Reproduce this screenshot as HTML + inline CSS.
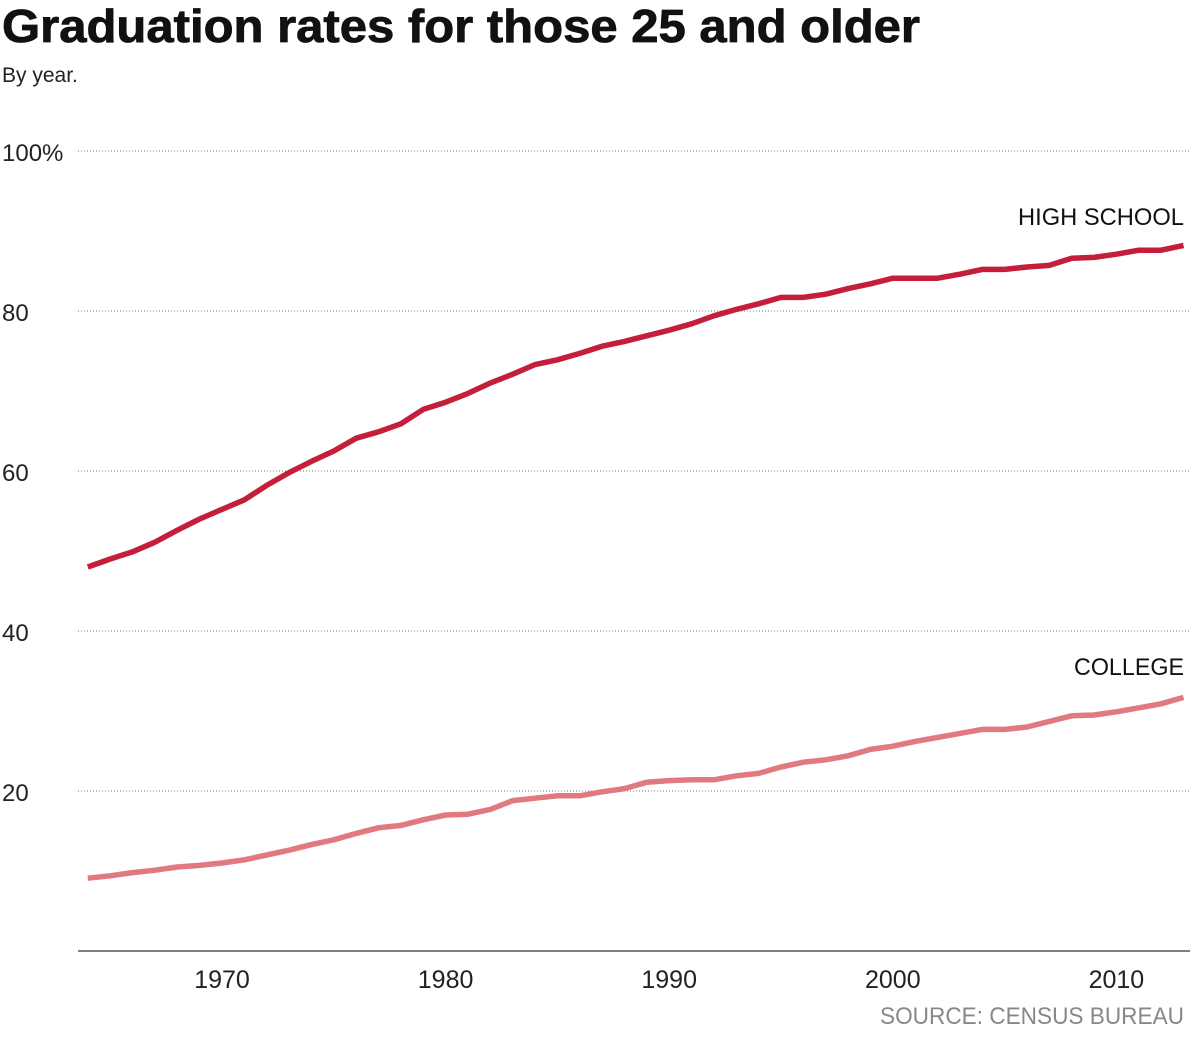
<!DOCTYPE html>
<html><head><meta charset="utf-8">
<style>
body{margin:0;background:#fff;width:1200px;height:1033px;overflow:hidden;font-family:"Liberation Sans",sans-serif;}
svg text{font-family:"Liberation Sans",sans-serif;}
</style></head>
<body>
<svg width="1200" height="1033" id="chart">
<text x="2" y="42" font-size="46" font-weight="bold" fill="#111" textLength="918" lengthAdjust="spacingAndGlyphs" stroke="#111" stroke-width="0.8">Graduation rates for those 25 and older</text>
<text x="2" y="82" font-size="21" fill="#222">By year.</text>
<g id="grid"></g>
<g id="lines"></g>
<text x="1184" y="1024" font-size="24" fill="#888" text-anchor="end" textLength="304" lengthAdjust="spacingAndGlyphs">SOURCE: CENSUS BUREAU</text>
</svg>
<script>
const years=[];for(let y=1964;y<=2013;y++)years.push(y);
const highSchool=[48.0,49.0,49.9,51.1,52.6,54.0,55.2,56.4,58.2,59.8,61.2,62.5,64.1,64.9,65.9,67.7,68.6,69.7,71.0,72.1,73.3,73.9,74.7,75.6,76.2,76.9,77.6,78.4,79.4,80.2,80.9,81.7,81.7,82.1,82.8,83.4,84.1,84.1,84.1,84.6,85.2,85.2,85.5,85.7,86.6,86.7,87.1,87.6,87.6,88.2];
const college=[9.1,9.4,9.8,10.1,10.5,10.7,11.0,11.4,12.0,12.6,13.3,13.9,14.7,15.4,15.7,16.4,17.0,17.1,17.7,18.8,19.1,19.4,19.4,19.9,20.3,21.1,21.3,21.4,21.4,21.9,22.2,23.0,23.6,23.9,24.4,25.2,25.6,26.2,26.7,27.2,27.7,27.7,28.0,28.7,29.4,29.5,29.9,30.4,30.9,31.7];
const yTicks=[20,40,60,80,100];
const yTickLabels=["20","40","60","80","100%"];
const xTicks=[1970,1980,1990,2000,2010];
const NS="http://www.w3.org/2000/svg";
const xs=y=>222+(y-1970)*22.36;
const ys=v=>951-v*8;
const grid=document.getElementById('grid'),lines=document.getElementById('lines');
function mk(tag,attrs,parent,text){const e=document.createElementNS(NS,tag);for(const k in attrs)e.setAttribute(k,attrs[k]);if(text!==undefined)e.textContent=text;parent.appendChild(e);return e;}
yTicks.forEach((t,i)=>{
 const l=mk('line',{x1:78,x2:1190,y1:ys(t),y2:ys(t),stroke:'#777','stroke-width':1,'stroke-dasharray':'1,2'},grid);
 
 
 const tx=mk('text',{x:2,y:ys(t)+10,'font-size':24,fill:'#222'},grid,yTickLabels[i]);
 
 
});
const base=mk('line',{x1:78,x2:1190,y1:951,y2:951,stroke:'#333','stroke-width':1.2},grid);


xTicks.forEach(t=>{
 const tx=mk('text',{x:xs(t),y:988,'font-size':25,fill:'#222','text-anchor':'middle'},grid,String(t));
 
 
});
function series(vals,color,name,label,ly,lw){
 const d=vals.map((v,i)=>(i?'L':'M')+xs(years[i]).toFixed(1)+','+ys(v).toFixed(1)).join('');
 const p=mk('path',{d:d,fill:'none',stroke:color,'stroke-width':5.5,'stroke-linejoin':'round'},lines);
 
 
 const t=mk('text',{x:1184,y:ly,'font-size':24,fill:'#111','text-anchor':'end',textLength:lw,lengthAdjust:'spacingAndGlyphs'},lines,label);
 
 
}
series(highSchool,'#c41e3a','high-school','HIGH SCHOOL',225,166);
series(college,'#e07a80','college','COLLEGE',675,110);
</script>
</body></html>
